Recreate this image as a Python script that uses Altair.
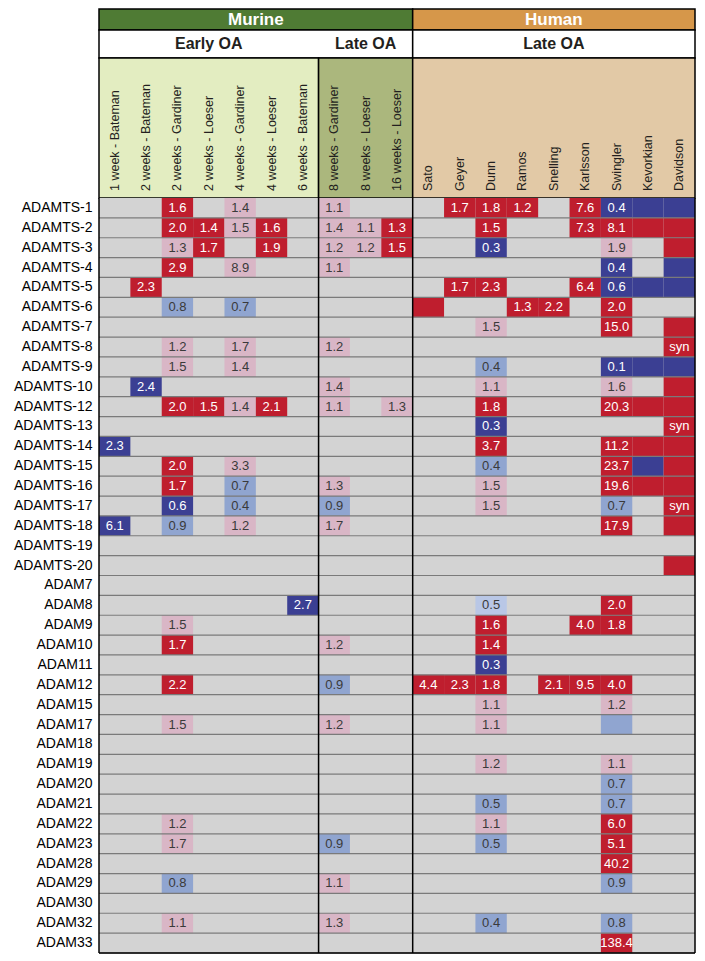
import altair as alt
import pandas as pd

FONT = "Liberation Sans"
W = 596

# ---- header structure ----
species = ["Murine", "Human"]
species_start = [0, 10]
species_end = [10, 19]
species_colors = ["#4f7b34", "#d6974a"]

stage_keys = ["early_murine", "late_murine", "late_human"]
stage_labels = ["Early OA", "Late OA", "Late OA"]
stage_start = [0, 7, 10]
stage_end = [7, 10, 19]
stage_colors = ["#e3edc1", "#abb77d", "#e2c9a6"]

columns = [
    "1 week - Bateman", "2 weeks - Bateman", "2 weeks - Gardiner", "2 weeks - Loeser",
    "4 weeks - Gardiner", "4 weeks - Loeser", "6 weeks - Bateman",
    "8 weeks - Gardiner", "8 weeks - Loeser", "16 weeks - Loeser",
    "Sato", "Geyer", "Dunn", "Ramos", "Snelling", "Karlsson", "Swingler", "Kevorkian", "Davidson",
]

genes = [
    "ADAMTS-1", "ADAMTS-2", "ADAMTS-3", "ADAMTS-4", "ADAMTS-5", "ADAMTS-6", "ADAMTS-7",
    "ADAMTS-8", "ADAMTS-9", "ADAMTS-10", "ADAMTS-12", "ADAMTS-13", "ADAMTS-14", "ADAMTS-15",
    "ADAMTS-16", "ADAMTS-17", "ADAMTS-18", "ADAMTS-19", "ADAMTS-20",
    "ADAM7", "ADAM8", "ADAM9", "ADAM10", "ADAM11", "ADAM12", "ADAM15", "ADAM17", "ADAM18",
    "ADAM19", "ADAM20", "ADAM21", "ADAM22", "ADAM23", "ADAM28", "ADAM29", "ADAM30", "ADAM32", "ADAM33",
]

# kinds: U = up (significant), u = up (weak), D = down (significant), d = down (weak), t = down (trend)
kinds = ["U", "u", "D", "d", "t"]
kind_colors = ["#bf1e2e", "#d9b6c6", "#3b3f93", "#90a5d0", "#b9c7e6"]

# (gene, column index, kind, label)
cells = [
    ("ADAMTS-1", 2, "U", "1.6"), ("ADAMTS-1", 4, "u", "1.4"), ("ADAMTS-1", 7, "u", "1.1"),
    ("ADAMTS-1", 11, "U", "1.7"), ("ADAMTS-1", 12, "U", "1.8"), ("ADAMTS-1", 13, "U", "1.2"),
    ("ADAMTS-1", 15, "U", "7.6"), ("ADAMTS-1", 16, "D", "0.4"), ("ADAMTS-1", 17, "D", ""),
    ("ADAMTS-1", 18, "D", ""),
    ("ADAMTS-2", 2, "U", "2.0"), ("ADAMTS-2", 3, "U", "1.4"), ("ADAMTS-2", 4, "u", "1.5"),
    ("ADAMTS-2", 5, "U", "1.6"), ("ADAMTS-2", 7, "u", "1.4"), ("ADAMTS-2", 8, "u", "1.1"),
    ("ADAMTS-2", 9, "U", "1.3"), ("ADAMTS-2", 12, "U", "1.5"), ("ADAMTS-2", 15, "U", "7.3"),
    ("ADAMTS-2", 16, "U", "8.1"), ("ADAMTS-2", 17, "U", ""), ("ADAMTS-2", 18, "U", ""),
    ("ADAMTS-3", 2, "u", "1.3"), ("ADAMTS-3", 3, "U", "1.7"), ("ADAMTS-3", 5, "U", "1.9"),
    ("ADAMTS-3", 7, "u", "1.2"), ("ADAMTS-3", 8, "u", "1.2"), ("ADAMTS-3", 9, "U", "1.5"),
    ("ADAMTS-3", 12, "D", "0.3"), ("ADAMTS-3", 16, "u", "1.9"), ("ADAMTS-3", 18, "U", ""),
    ("ADAMTS-4", 2, "U", "2.9"), ("ADAMTS-4", 4, "u", "8.9"), ("ADAMTS-4", 7, "u", "1.1"),
    ("ADAMTS-4", 16, "D", "0.4"), ("ADAMTS-4", 18, "D", ""),
    ("ADAMTS-5", 1, "U", "2.3"), ("ADAMTS-5", 11, "U", "1.7"), ("ADAMTS-5", 12, "U", "2.3"),
    ("ADAMTS-5", 15, "U", "6.4"), ("ADAMTS-5", 16, "D", "0.6"), ("ADAMTS-5", 17, "D", ""),
    ("ADAMTS-5", 18, "D", ""),
    ("ADAMTS-6", 2, "d", "0.8"), ("ADAMTS-6", 4, "d", "0.7"), ("ADAMTS-6", 10, "U", ""),
    ("ADAMTS-6", 13, "U", "1.3"), ("ADAMTS-6", 14, "U", "2.2"), ("ADAMTS-6", 16, "U", "2.0"),
    ("ADAMTS-7", 12, "u", "1.5"), ("ADAMTS-7", 16, "U", "15.0"), ("ADAMTS-7", 18, "U", ""),
    ("ADAMTS-8", 2, "u", "1.2"), ("ADAMTS-8", 4, "u", "1.7"), ("ADAMTS-8", 7, "u", "1.2"),
    ("ADAMTS-8", 18, "U", "syn"),
    ("ADAMTS-9", 2, "u", "1.5"), ("ADAMTS-9", 4, "u", "1.4"), ("ADAMTS-9", 12, "d", "0.4"),
    ("ADAMTS-9", 16, "D", "0.1"), ("ADAMTS-9", 17, "D", ""), ("ADAMTS-9", 18, "D", ""),
    ("ADAMTS-10", 1, "D", "2.4"), ("ADAMTS-10", 7, "u", "1.4"), ("ADAMTS-10", 12, "u", "1.1"),
    ("ADAMTS-10", 16, "u", "1.6"), ("ADAMTS-10", 18, "U", ""),
    ("ADAMTS-12", 2, "U", "2.0"), ("ADAMTS-12", 3, "U", "1.5"), ("ADAMTS-12", 4, "u", "1.4"),
    ("ADAMTS-12", 5, "U", "2.1"), ("ADAMTS-12", 7, "u", "1.1"), ("ADAMTS-12", 9, "u", "1.3"),
    ("ADAMTS-12", 12, "U", "1.8"), ("ADAMTS-12", 16, "U", "20.3"), ("ADAMTS-12", 17, "U", ""),
    ("ADAMTS-12", 18, "U", ""),
    ("ADAMTS-13", 12, "D", "0.3"), ("ADAMTS-13", 18, "U", "syn"),
    ("ADAMTS-14", 0, "D", "2.3"), ("ADAMTS-14", 12, "U", "3.7"), ("ADAMTS-14", 16, "U", "11.2"),
    ("ADAMTS-14", 17, "U", ""), ("ADAMTS-14", 18, "U", ""),
    ("ADAMTS-15", 2, "U", "2.0"), ("ADAMTS-15", 4, "u", "3.3"), ("ADAMTS-15", 12, "d", "0.4"),
    ("ADAMTS-15", 16, "U", "23.7"), ("ADAMTS-15", 17, "D", ""), ("ADAMTS-15", 18, "U", ""),
    ("ADAMTS-16", 2, "U", "1.7"), ("ADAMTS-16", 4, "d", "0.7"), ("ADAMTS-16", 7, "u", "1.3"),
    ("ADAMTS-16", 12, "u", "1.5"), ("ADAMTS-16", 16, "U", "19.6"), ("ADAMTS-16", 17, "U", ""),
    ("ADAMTS-16", 18, "U", ""),
    ("ADAMTS-17", 2, "D", "0.6"), ("ADAMTS-17", 4, "d", "0.4"), ("ADAMTS-17", 7, "d", "0.9"),
    ("ADAMTS-17", 12, "u", "1.5"), ("ADAMTS-17", 16, "d", "0.7"), ("ADAMTS-17", 18, "U", "syn"),
    ("ADAMTS-18", 0, "D", "6.1"), ("ADAMTS-18", 2, "d", "0.9"), ("ADAMTS-18", 4, "u", "1.2"),
    ("ADAMTS-18", 7, "u", "1.7"), ("ADAMTS-18", 16, "U", "17.9"), ("ADAMTS-18", 18, "U", ""),
    ("ADAMTS-20", 18, "U", ""),
    ("ADAM8", 6, "D", "2.7"), ("ADAM8", 12, "t", "0.5"), ("ADAM8", 16, "U", "2.0"),
    ("ADAM9", 2, "u", "1.5"), ("ADAM9", 12, "U", "1.6"), ("ADAM9", 15, "U", "4.0"),
    ("ADAM9", 16, "U", "1.8"),
    ("ADAM10", 2, "U", "1.7"), ("ADAM10", 7, "u", "1.2"), ("ADAM10", 12, "U", "1.4"),
    ("ADAM11", 12, "D", "0.3"),
    ("ADAM12", 2, "U", "2.2"), ("ADAM12", 7, "d", "0.9"), ("ADAM12", 10, "U", "4.4"),
    ("ADAM12", 11, "U", "2.3"), ("ADAM12", 12, "U", "1.8"), ("ADAM12", 14, "U", "2.1"),
    ("ADAM12", 15, "U", "9.5"), ("ADAM12", 16, "U", "4.0"),
    ("ADAM15", 12, "u", "1.1"), ("ADAM15", 16, "u", "1.2"),
    ("ADAM17", 2, "u", "1.5"), ("ADAM17", 7, "u", "1.2"), ("ADAM17", 12, "u", "1.1"),
    ("ADAM17", 16, "d", ""),
    ("ADAM19", 12, "u", "1.2"), ("ADAM19", 16, "u", "1.1"),
    ("ADAM20", 16, "d", "0.7"),
    ("ADAM21", 12, "d", "0.5"), ("ADAM21", 16, "d", "0.7"),
    ("ADAM22", 2, "u", "1.2"), ("ADAM22", 12, "u", "1.1"), ("ADAM22", 16, "U", "6.0"),
    ("ADAM23", 2, "u", "1.7"), ("ADAM23", 7, "d", "0.9"), ("ADAM23", 12, "d", "0.5"),
    ("ADAM23", 16, "U", "5.1"),
    ("ADAM28", 16, "U", "40.2"),
    ("ADAM29", 2, "d", "0.8"), ("ADAM29", 7, "u", "1.1"), ("ADAM29", 16, "d", "0.9"),
    ("ADAM32", 2, "u", "1.1"), ("ADAM32", 7, "u", "1.3"), ("ADAM32", 12, "d", "0.4"),
    ("ADAM32", 16, "d", "0.8"),
    ("ADAM33", 16, "U", "138.4"),
]

# ---- data frames ----
sp_df = pd.DataFrame({"name": species, "start": species_start, "end": species_end})
st_df = pd.DataFrame({"key": stage_keys, "label": stage_labels, "start": stage_start, "end": stage_end})
col_df = pd.DataFrame({"col": list(range(len(columns))), "name": columns})
cell_df = pd.DataFrame(cells, columns=["gene", "col", "kind", "label"])
gene_df = pd.DataFrame({"gene": genes})
bounds_df = pd.DataFrame({"b": sorted(set(stage_start + stage_end))})

xscale = alt.Scale(domain=[0, len(columns)], nice=False, zero=False)

# ---- species band ----
band_rect = alt.Chart(sp_df).mark_rect(stroke="black", strokeWidth=1.5).encode(
    x=alt.X("start:Q", scale=xscale, axis=None), x2="end:Q",
    color=alt.Color("name:N", scale=alt.Scale(domain=species, range=species_colors), legend=None),
)
band_text = alt.Chart(sp_df).transform_calculate(mid="(datum.start + datum.end) / 2").mark_text(
    color="white", font=FONT, fontWeight="bold", fontSize=17
).encode(x=alt.X("mid:Q", scale=xscale, axis=None), text="name:N")
band = alt.layer(band_rect, band_text).properties(width=W, height=21)

# ---- stage band ----
stage_rect = alt.Chart(sp_df).mark_rect(fill="white", stroke="black", strokeWidth=1.5).encode(
    x=alt.X("start:Q", scale=xscale, axis=None), x2="end:Q"
)
stage_text = alt.Chart(st_df).transform_calculate(mid="(datum.start + datum.end) / 2").mark_text(
    color="#231f20", font=FONT, fontWeight="bold", fontSize=16
).encode(x=alt.X("mid:Q", scale=xscale, axis=None), text="label:N")
stage_row = alt.layer(stage_rect, stage_text).properties(width=W, height=28)

# ---- column header ----
HH = 140
hdr_rect = alt.Chart(st_df).mark_rect(stroke="black", strokeWidth=1.5).encode(
    x=alt.X("start:Q", scale=xscale, axis=None), x2="end:Q",
    color=alt.Color("key:N", scale=alt.Scale(domain=stage_keys, range=stage_colors), legend=None),
)
hdr_text = alt.Chart(col_df).transform_calculate(mid="datum.col + 0.5").mark_text(
    angle=270, align="left", baseline="middle", font=FONT, fontSize=12.5, color="#231f20"
).encode(x=alt.X("mid:Q", scale=xscale, axis=None), y=alt.value(HH - 7), text="name:N")
hdr = alt.layer(hdr_rect, hdr_text).properties(width=W, height=HH)

# ---- body ----
yaxis = alt.Axis(title=None, ticks=False, domain=False, labelFont=FONT, labelFontSize=14,
                 labelColor="black", labelPadding=7)
yscale = alt.Scale(domain=genes, paddingInner=0, paddingOuter=0)

bg = alt.Chart(gene_df).mark_rect(color="#d3d3d3").encode(
    y=alt.Y("gene:N", scale=yscale, axis=yaxis)
)
cell_rect = alt.Chart(cell_df).transform_calculate(colend="datum.col + 1").mark_rect().encode(
    x=alt.X("col:Q", scale=xscale, axis=None), x2="colend:Q",
    y=alt.Y("gene:N", scale=yscale, axis=yaxis),
    color=alt.Color("kind:N", scale=alt.Scale(domain=kinds, range=kind_colors), legend=None),
)
row_lines = alt.Chart(gene_df).mark_rule(color="#7a7a7a", strokeWidth=1.2).encode(
    y=alt.Y("gene:N", bandPosition=1, scale=yscale, axis=yaxis)
)
cell_text = alt.Chart(cell_df).transform_calculate(
    mid="datum.col + 0.5",
    tc="(datum.kind == 'U' || datum.kind == 'D') ? 'white' : '#3a3a3a'",
).mark_text(font=FONT, fontSize=13).encode(
    x=alt.X("mid:Q", scale=xscale, axis=None),
    y=alt.Y("gene:N", scale=yscale, axis=yaxis),
    text="label:N",
    color=alt.Color("tc:N", scale=None, legend=None),
)
vlines = alt.Chart(bounds_df).mark_rule(color="black", strokeWidth=1.5).encode(
    x=alt.X("b:Q", scale=xscale, axis=None)
)
bottom = alt.Chart(pd.DataFrame({"gene": [genes[-1]]})).mark_rule(color="black", strokeWidth=1.5).encode(
    y=alt.Y("gene:N", bandPosition=1, scale=yscale, axis=yaxis)
)
body = alt.layer(bg, cell_rect, row_lines, cell_text, vlines, bottom).resolve_scale(
    color="independent"
).properties(width=W, height=755)

chart = alt.vconcat(band, stage_row, hdr, body, spacing=0, bounds="flush").resolve_scale(
    color="independent"
).properties(
    padding={"left": 5, "top": 0, "right": 0, "bottom": 0}
).configure_view(stroke=None)

chart.save("out.html", embed_options={"renderer": "svg", "actions": False})
